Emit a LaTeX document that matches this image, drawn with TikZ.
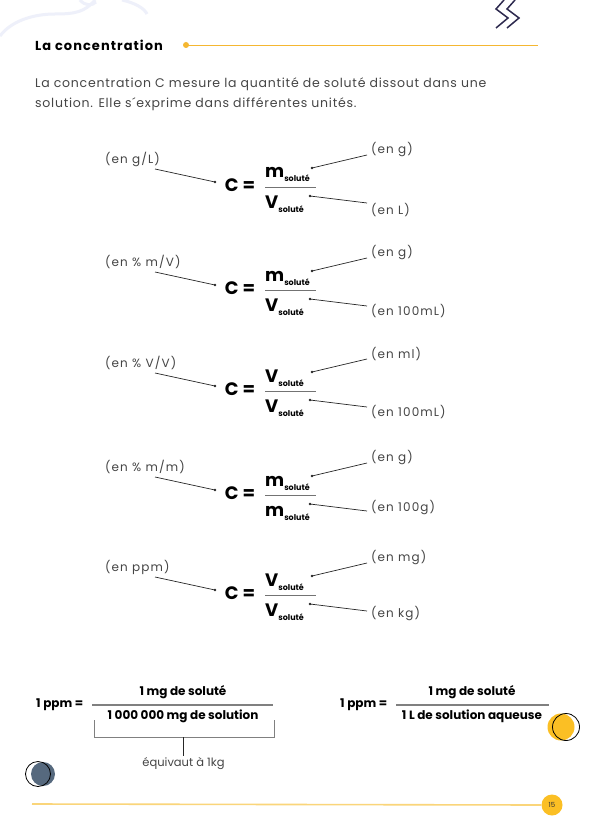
\documentclass[tikz,border=0pt]{standalone}
\usepackage{fontspec}
\setmainfont{Poppins}
\newfontfamily\lsp{Poppins}[LetterSpace=9]
\newfontfamily\bsp{Poppins}[LetterSpace=6]
\newfontfamily\tsp{Poppins}[LetterSpace=8]
\definecolor{txt}{HTML}{454545}
\definecolor{gold}{HTML}{F5B731}
\definecolor{goldlight}{HTML}{FAD57A}
\definecolor{navy}{HTML}{2E2A4F}
\definecolor{swirl}{HTML}{EEF0FA}
\definecolor{slate}{HTML}{56697E}
\definecolor{sun}{HTML}{FBBF24}
\newcommand\fs[1]{\fontsize{#1}{#1}\selectfont}
\newcommand\solsub{\raisebox{-4pt}{\fs{8}soluté}}
\tikzset{
 lbl/.style={font=\lsp\fs{12}, text=txt, inner sep=0pt, anchor=west},
 eqc/.style={font=\fs{18}\bfseries, inner sep=0pt},
 fracpart/.style={font=\fs{18}\bfseries, inner sep=0pt, anchor=base west},
 conn/.style={draw=black!85, line width=0.7pt},
 fracline/.style={draw=black!55, line width=0.8pt},
 bigline/.style={draw=black!50, line width=1.3pt},
 ppm/.style={font=\fs{12}\bfseries, inner sep=0pt},
 dotc/.style={fill=black!85},
 bodytxt/.style={font=\bsp\fs{12.5}, text=txt, anchor=base west, inner sep=0pt},
}
\newcommand\cblock[8]{%
 \node[eqc] (#1c) at (240,#2) {C =};
 \node[fracpart] (#1n) at (265,#2-7) {#4\solsub};
 \node[fracpart] (#1d) at (265,#2+23) {#5\solsub};
 \draw[fracline] (265,#2+2) -- (316,#2+2);
 \node[lbl] (#1l) at (105,#2-26) {#3};
 \node[lbl] (#1u) at (371,#2-35) {#6};
 \node[lbl] (#1w) at (371,#2+#8) {#7};
 \coordinate (#1la) at (155,#2-16);
 \coordinate (#1lb) at (215,#2-3);
 \coordinate (#1ua) at (312,#2-17);
 \coordinate (#1ub) at (367,#2-30);
 \coordinate (#1wa) at (310,#2+11);
 \coordinate (#1wb) at (367,#2+18);
 \draw[conn] (#1la) -- (#1lb);
 \draw[conn] (#1ua) -- (#1ub);
 \draw[conn] (#1wa) -- (#1wb);
 \fill[dotc] (#1lb) circle (1.4);
 \fill[dotc] (#1ua) circle (1.4);
 \fill[dotc] (#1wa) circle (1.4);
}
\begin{document}
\begin{tikzpicture}[x=1pt,y=-1pt]
\useasboundingbox (0,0) rectangle (593,837);
\fill[white] (0,0) rectangle (593,837);
% decoration top-left
\draw[swirl, line width=3] (0,36) .. controls (12,20) and (35,14) .. (55,14) .. controls (75,14) and (85,12) .. (95,0);
\draw[swirl, line width=3] (80,0) .. controls (85,6) and (92,6) .. (96,2);
\draw[swirl, line width=3] (122,0) .. controls (135,3) and (144,8) .. (147,14);
% chevrons
\draw[navy, line width=1.5, line join=miter] (504,0) -- (496,9) -- (508,18) -- (496,28);
\draw[navy, line width=1.5, line join=miter] (515,0) -- (507,9) -- (519,18) -- (507,28);
% header
\node[font=\tsp\fs{13}\bfseries, anchor=west, inner sep=0pt] (title) at (35,45) {La concentration};
\coordinate (hla) at (186,45);
\coordinate (hlb) at (538,45);
\draw[gold, line width=0.8] (hla) -- (hlb);
\fill[gold] (hla) circle (3);
% body
\node[bodytxt] (b1) at (35,88) {La concentration C mesure la quantité de soluté dissout dans une};
\node[bodytxt] (b2) at (35,108) {solution. Elle s´exprime dans différentes unités.};
% blocks
\cblock{a}{185}{(en g/L)}{m}{V}{(en g)}{(en L)}{25}
\cblock{b}{288}{(en \% m/V)}{m}{V}{(en g)}{(en 100mL)}{23}
\cblock{c}{389}{(en \% V/V)}{V}{V}{(en ml)}{(en 100mL)}{23}
\cblock{d}{493}{(en \% m/m)}{m}{m}{(en g)}{(en 100g)}{15}
\cblock{e}{593}{(en ppm)}{V}{V}{(en mg)}{(en kg)}{21}
% bottom left formula
\node[ppm, anchor=west] (p1) at (36,705) {1 ppm =};
\node[ppm] (n1) at (183,692) {1 mg de soluté};
\node[ppm] (d1) at (183,716) {1 000 000 mg de solution};
\draw[bigline] (92,705) -- (273,705);
\coordinate (bra) at (94,720);
\coordinate (brb) at (94,737);
\coordinate (brc) at (274,737);
\coordinate (brd) at (274,720);
\coordinate (bst) at (183,737);
\draw[bigline, line width=1pt] (bra) -- (brb) -- (brc) -- (brd);
\node[font=\fs{11.5}, text=txt, inner sep=0pt] (eq) at (183.5,764) {équivaut à 1kg};
\coordinate (bse) at (183,756);
\draw[conn, line width=1pt] (bst) -- (bse);
% bottom right formula
\node[ppm, anchor=west] (p2) at (340,705) {1 ppm =};
\node[ppm] (n2) at (472,692) {1 mg de soluté};
\node[ppm] (d2) at (472,716) {1 L de solution aqueuse};
\draw[bigline] (396,705) -- (549,705);
% circles
\fill[sun] (561,727) circle (13.5);
\draw[black, line width=0.8] (566,727) circle (13.5);
\fill[slate] (43,774) circle (12);
\draw[black, line width=0.8] (38,774) circle (12.5);
% footer
\coordinate (fa) at (32,804);
\node[circle, fill=sun, minimum size=21pt, inner sep=0pt, font=\fs{7}, text=black!80] (pg) at (552,805) {15};
\draw[goldlight, line width=1.6] (fa) -- (pg.west);
\end{tikzpicture}
\end{document}
